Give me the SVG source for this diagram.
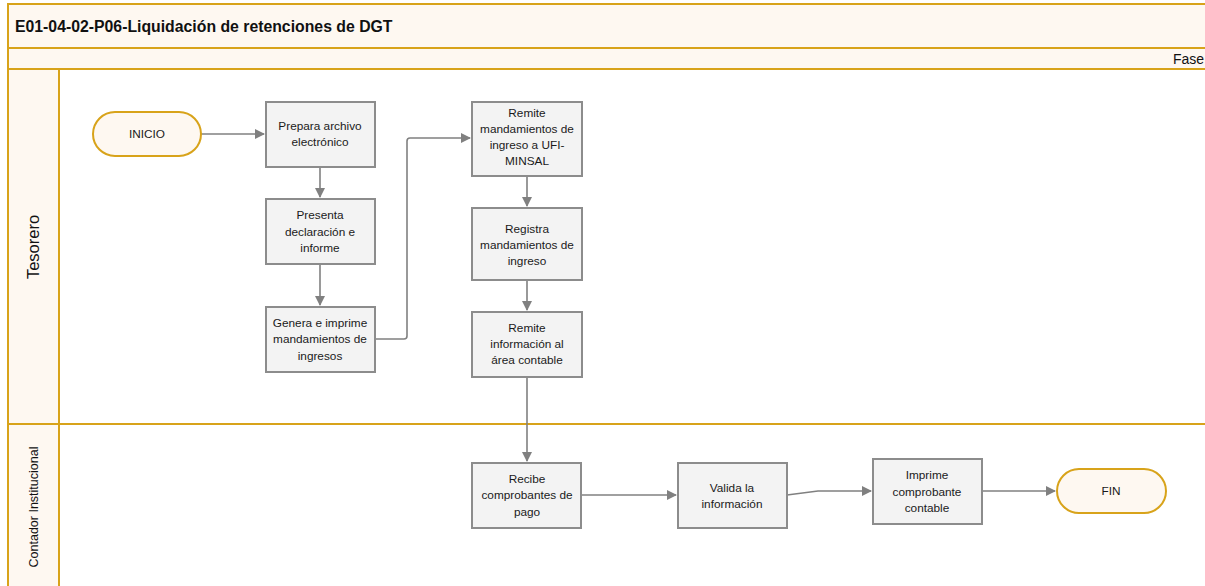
<svg xmlns="http://www.w3.org/2000/svg" width="1205" height="586" viewBox="0 0 1205 586">
<defs>
<style>
.lane{fill:#fef8f1;stroke:#d8a31a;stroke-width:2}
.body{fill:#ffffff;stroke:#d8a31a;stroke-width:2}
.box{fill:#f3f3f3;stroke:#8c8c8c;stroke-width:2}
.term{fill:#fef8f1;stroke:#d8a31a;stroke-width:2}
.t{font-family:"Liberation Sans",Arial,sans-serif;font-size:11.8px;fill:#1a1a1a;text-anchor:middle}
.c{fill:none;stroke:#808080;stroke-width:1.6}
</style>
<marker id="ah" markerWidth="10" markerHeight="10" refX="9" refY="5" orient="auto" markerUnits="userSpaceOnUse">
<path d="M0,0 L10,5 L0,10 Z" fill="#808080"/>
</marker>
</defs>
<g id="pool">
<rect class="lane" x="8" y="4" width="1210" height="44"/>
<rect class="lane" x="8" y="48" width="1210" height="21"/>
<rect class="body" x="59" y="69" width="1160" height="355"/>
<rect class="body" x="59" y="424" width="1160" height="170"/>
<rect class="lane" x="8" y="69" width="51" height="355"/>
<rect class="lane" x="8" y="424" width="51" height="170"/>
<text x="15" y="32" style="font-family:'Liberation Sans',Arial,sans-serif;font-size:15.8px;font-weight:bold;fill:#111">E01-04-02-P06-Liquidación de retenciones de DGT</text>
<text x="1173" y="64" style="font-family:'Liberation Sans',Arial,sans-serif;font-size:14px;fill:#111">Fase</text>
<text transform="translate(39,247) rotate(-90)" style="font-family:'Liberation Sans',Arial,sans-serif;font-size:16.5px;fill:#111;text-anchor:middle">Tesorero</text>
<text transform="translate(38,507) rotate(-90)" style="font-family:'Liberation Sans',Arial,sans-serif;font-size:12.5px;fill:#111;text-anchor:middle">Contador Institucional</text>
</g>
<g id="connectors">
<path class="c" d="M201,134 L264,134" marker-end="url(#ah)"/>
<path class="c" d="M320,167 L320,197" marker-end="url(#ah)"/>
<path class="c" d="M320,264 L320,305" marker-end="url(#ah)"/>
<path class="c" d="M375,339 L404,339 Q407,339 407,336 L407,141 Q407,138 410,138 L470,138" marker-end="url(#ah)"/>
<path class="c" d="M527,176 L527,206" marker-end="url(#ah)"/>
<path class="c" d="M527,280 L527,310" marker-end="url(#ah)"/>
<path class="c" d="M527,377 L527,461" marker-end="url(#ah)"/>
<path class="c" d="M581,495 L676,495" marker-end="url(#ah)"/>
<path class="c" d="M787,495 L818,491 L871,491" marker-end="url(#ah)"/>
<path class="c" d="M982,491 L1055,491" marker-end="url(#ah)"/>
</g>
<g id="inicio">
<rect class="term" x="93" y="112" width="108" height="44" rx="22"/>
<text class="t" x="147" y="138">INICIO</text>
</g>
<g id="prepara">
<rect class="box" x="266" y="102" width="109" height="65"/>
<text class="t" x="320" y="130">Prepara archivo</text>
<text class="t" x="320" y="146">electrónico</text>
</g>
<g id="presenta">
<rect class="box" x="266" y="199" width="109" height="65"/>
<text class="t" x="320" y="219">Presenta</text>
<text class="t" x="320" y="236">declaración e</text>
<text class="t" x="320" y="252">informe</text>
</g>
<g id="genera">
<rect class="box" x="266" y="307" width="109" height="65"/>
<text class="t" x="320" y="327">Genera e imprime</text>
<text class="t" x="320" y="343">mandamientos de</text>
<text class="t" x="320" y="360">ingresos</text>
</g>
<g id="remite1">
<rect class="box" x="472" y="102" width="110" height="74"/>
<text class="t" x="527" y="117">Remite</text>
<text class="t" x="527" y="133">mandamientos de</text>
<text class="t" x="527" y="149">ingreso a UFI-</text>
<text class="t" x="527" y="165">MINSAL</text>
</g>
<g id="registra">
<rect class="box" x="472" y="208" width="110" height="72"/>
<text class="t" x="527" y="233">Registra</text>
<text class="t" x="527" y="249">mandamientos de</text>
<text class="t" x="527" y="265">ingreso</text>
</g>
<g id="remite2">
<rect class="box" x="472" y="312" width="110" height="65"/>
<text class="t" x="527" y="332">Remite</text>
<text class="t" x="527" y="348">información al</text>
<text class="t" x="527" y="364">área contable</text>
</g>
<g id="recibe">
<rect class="box" x="472" y="463" width="109" height="65"/>
<text class="t" x="527" y="483">Recibe</text>
<text class="t" x="527" y="499">comprobantes de</text>
<text class="t" x="527" y="516">pago</text>
</g>
<g id="valida">
<rect class="box" x="678" y="463" width="109" height="65"/>
<text class="t" x="732" y="492">Valida la</text>
<text class="t" x="732" y="508">información</text>
</g>
<g id="imprime">
<rect class="box" x="873" y="459" width="109" height="65"/>
<text class="t" x="927" y="479">Imprime</text>
<text class="t" x="927" y="496">comprobante</text>
<text class="t" x="927" y="512">contable</text>
</g>
<g id="fin">
<rect class="term" x="1057" y="469" width="109" height="44" rx="22"/>
<text class="t" x="1111" y="495">FIN</text>
</g>
</svg>
